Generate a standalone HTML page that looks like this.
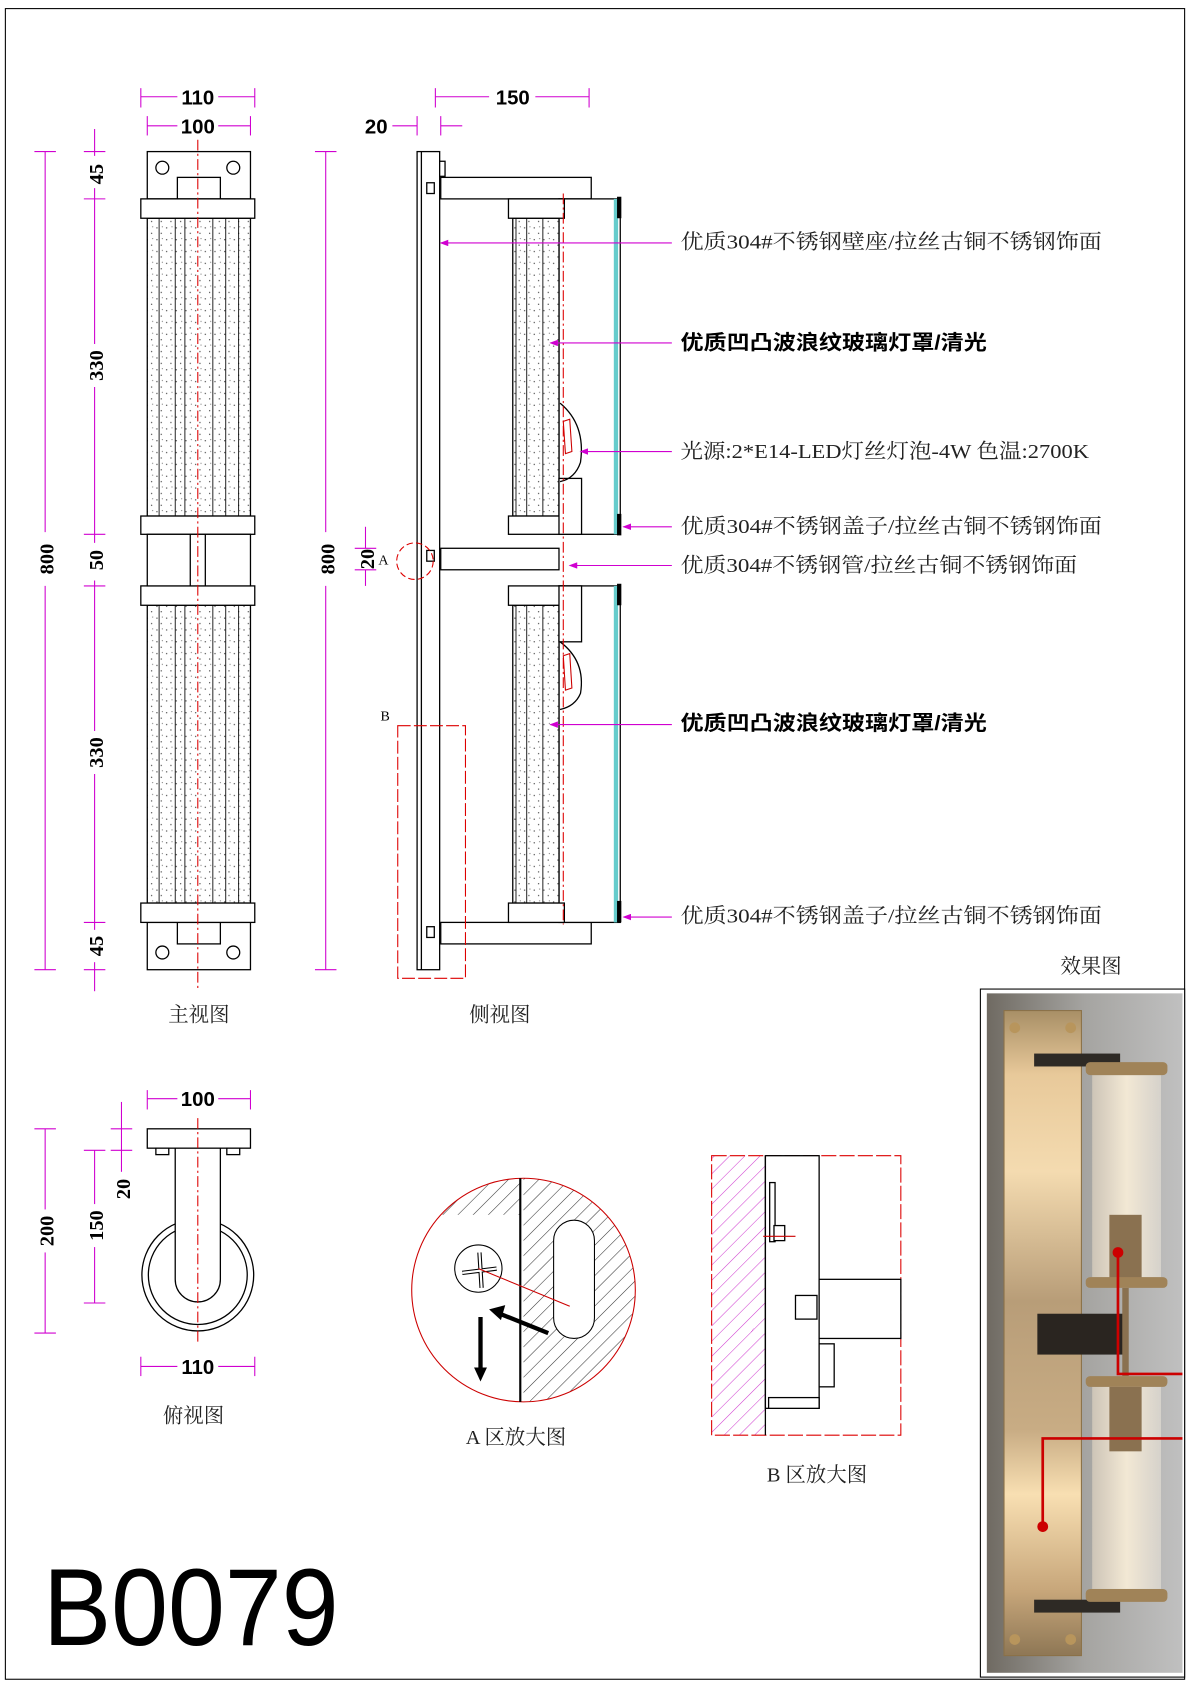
<!DOCTYPE html>
<html><head><meta charset="utf-8"><style>
html,body{margin:0;padding:0;background:#fff}
svg{display:block}
text{font-family:"Liberation Serif","Noto Serif CJK SC","Noto Sans CJK SC",serif}
.d{fill:#000;font-family:"Liberation Sans","Noto Sans CJK SC",sans-serif;font-weight:bold;font-size:19px}
.l{font-size:19px;fill:#222}
.b{font-weight:bold;fill:#000;font-family:"Liberation Sans","Noto Sans CJK SC",sans-serif}
.big{font-family:"Liberation Sans",sans-serif;font-size:102px;fill:#000}
</style></head><body>
<svg width="1190" height="1690" viewBox="0 0 1107 1572" preserveAspectRatio="none" xmlns="http://www.w3.org/2000/svg">
<defs>
<pattern id="st" width="9" height="11" patternUnits="userSpaceOnUse">
<rect width="9" height="11" fill="#fff"/>
<circle cx="2" cy="3" r=".6" fill="#333"/><circle cx="6" cy="8" r=".6" fill="#333"/><circle cx="7" cy="2" r=".5" fill="#555"/>
</pattern>
<pattern id="ht" width="10" height="10" patternUnits="userSpaceOnUse" patternTransform="rotate(45)">
<line x1="0" y1="0" x2="0" y2="10" stroke="#333" stroke-width="1"/></pattern>
<pattern id="hm" width="10" height="10" patternUnits="userSpaceOnUse" patternTransform="rotate(45)">
<line x1="0" y1="0" x2="0" y2="10" stroke="#d040d0" stroke-width="1"/></pattern>
<linearGradient id="bg" x1="0" x2="1"><stop offset="0" stop-color="#6f6a62"/><stop offset=".5" stop-color="#a5a4a1"/><stop offset="1" stop-color="#c0c0c0"/></linearGradient>
<linearGradient id="pl" x1="0" y1="0" x2="0" y2="1"><stop offset="0" stop-color="#a88f66"/><stop offset=".1" stop-color="#e8c99a"/><stop offset=".25" stop-color="#f4dbb0"/><stop offset=".45" stop-color="#b89d78"/><stop offset=".65" stop-color="#c8ac84"/><stop offset=".75" stop-color="#f8dfb2"/><stop offset=".9" stop-color="#c7a67a"/><stop offset="1" stop-color="#8e7755"/></linearGradient>
<linearGradient id="gl" x1="0" x2="1"><stop offset="0" stop-color="#cfc6b8"/><stop offset=".5" stop-color="#f6ebd6"/><stop offset="1" stop-color="#d7d3cc"/></linearGradient>
<marker id="ar" markerWidth="8" markerHeight="6" refX="7" refY="3" orient="auto"><path d="M0,0L8,3L0,6z" fill="#d000d0"/></marker>
</defs>
<rect x="5" y="8" width="1097" height="1554" fill="none" stroke="#000" stroke-width="1"/>

<g stroke="#000" stroke-width="1.2" fill="#fff">
<rect x="137" y="141" width="96" height="44"/><rect x="165" y="165" width="40" height="20"/>
<circle cx="151" cy="156" r="6"/><circle cx="217" cy="156" r="6"/>
<rect x="137" y="858" width="96" height="44"/><rect x="165" y="858" width="40" height="20"/>
<circle cx="151" cy="886" r="6"/><circle cx="217" cy="886" r="6"/>
<rect x="137" y="203" width="96" height="277" fill="url(#st)"/>
<rect x="137" y="563" width="96" height="277" fill="url(#st)"/>
<rect x="131" y="185" width="106" height="18"/><rect x="131" y="480" width="106" height="17"/>
<rect x="131" y="545" width="106" height="18"/><rect x="131" y="840" width="106" height="18"/>
<rect x="137" y="497" width="96" height="48"/>
<line x1="177" y1="497" x2="177" y2="545"/><line x1="191" y1="497" x2="191" y2="545"/>
</g>
<g stroke="#000" stroke-width=".8">
<line x1="148" y1="203" x2="148" y2="480"/><line x1="163" y1="203" x2="163" y2="480"/><line x1="172" y1="203" x2="172" y2="480"/><line x1="198" y1="203" x2="198" y2="480"/><line x1="210" y1="203" x2="210" y2="480"/><line x1="222" y1="203" x2="222" y2="480"/>
<line x1="148" y1="563" x2="148" y2="840"/><line x1="163" y1="563" x2="163" y2="840"/><line x1="172" y1="563" x2="172" y2="840"/><line x1="198" y1="563" x2="198" y2="840"/><line x1="210" y1="563" x2="210" y2="840"/><line x1="222" y1="563" x2="222" y2="840"/>
</g>
<line x1="184" y1="130" x2="184" y2="920" stroke="#d00" stroke-dasharray="10,3,2,3"/>

<g stroke="#d000d0" stroke-width="1" fill="none">
<line x1="131" y1="90" x2="165" y2="90"/><line x1="203" y1="90" x2="237" y2="90"/>
<line x1="131" y1="82" x2="131" y2="100"/><line x1="237" y1="82" x2="237" y2="100"/>
<line x1="137" y1="117" x2="165" y2="117"/><line x1="203" y1="117" x2="233" y2="117"/>
<line x1="137" y1="108" x2="137" y2="126"/><line x1="233" y1="108" x2="233" y2="126"/>
<line x1="42" y1="141" x2="42" y2="495"/><line x1="42" y1="545" x2="42" y2="902"/>
<line x1="32" y1="141" x2="52" y2="141"/><line x1="32" y1="902" x2="52" y2="902"/>
<line x1="88" y1="120" x2="88" y2="145"/><line x1="88" y1="175" x2="88" y2="320"/><line x1="88" y1="360" x2="88" y2="505"/><line x1="88" y1="540" x2="88" y2="680"/><line x1="88" y1="720" x2="88" y2="865"/><line x1="88" y1="895" x2="88" y2="922"/>
<line x1="78" y1="141" x2="98" y2="141"/><line x1="78" y1="185" x2="98" y2="185"/><line x1="78" y1="497" x2="98" y2="497"/><line x1="78" y1="545" x2="98" y2="545"/><line x1="78" y1="858" x2="98" y2="858"/><line x1="78" y1="902" x2="98" y2="902"/>
</g>
<text class="d" x="184" y="97" text-anchor="middle">110</text>
<text class="d" x="184" y="124" text-anchor="middle">100</text>
<g class="d" text-anchor="middle">
<text transform="translate(50,520) rotate(-90)">800</text>
<text transform="translate(96,162) rotate(-90)">45</text>
<text transform="translate(96,340) rotate(-90)">330</text>
<text transform="translate(96,521) rotate(-90)">50</text>
<text transform="translate(96,700) rotate(-90)">330</text>
<text transform="translate(96,880) rotate(-90)">45</text>
<text transform="translate(311,520) rotate(-90)">800</text>
<text transform="translate(348,520) rotate(-90)">20</text>
</g>
<text class="l" x="185" y="950" text-anchor="middle" font-size="21">主视图</text>

<g stroke="#000" stroke-width="1.2" fill="#fff">
<rect x="388" y="141" width="21" height="761"/><line x1="392" y1="141" x2="392" y2="902"/>
<rect x="409" y="150" width="5" height="14"/>
<rect x="410" y="165" width="140" height="20"/><rect x="410" y="858" width="140" height="20"/>
<rect x="410" y="510" width="110" height="20"/>
<rect x="520" y="185" width="57" height="312"/><rect x="520" y="545" width="57" height="313"/>
<rect x="477" y="203" width="43" height="277" fill="url(#st)"/>
<rect x="477" y="563" width="43" height="277" fill="url(#st)"/>
<rect x="473" y="185" width="52" height="18"/><rect x="473" y="480" width="52" height="17"/>
<rect x="473" y="545" width="52" height="18"/><rect x="473" y="840" width="52" height="18"/>
<rect x="520" y="445" width="21" height="52"/><rect x="520" y="545" width="21" height="52"/>
<path d="M521,375 Q545,395 540,430 Q535,445 521,448" fill="none"/>
<path d="M521,597 Q545,615 540,645 Q535,657 521,660" fill="none"/>
<rect x="397" y="170" width="7" height="10"/><rect x="397" y="512" width="7" height="10"/><rect x="397" y="862" width="7" height="10"/>
</g>
<g stroke="#000" stroke-width=".8"><line x1="480" y1="203" x2="480" y2="480"/><line x1="490" y1="203" x2="490" y2="480"/><line x1="505" y1="203" x2="505" y2="480"/><line x1="480" y1="563" x2="480" y2="840"/><line x1="490" y1="563" x2="490" y2="840"/><line x1="505" y1="563" x2="505" y2="840"/></g>
<rect x="571" y="185" width="4" height="312" fill="#6cc"/><rect x="571" y="545" width="4" height="313" fill="#6cc"/>
<rect x="574" y="183" width="4" height="20" fill="#000"/><rect x="574" y="478" width="4" height="20" fill="#000"/>
<rect x="574" y="543" width="4" height="20" fill="#000"/><rect x="574" y="838" width="4" height="20" fill="#000"/>
<path d="M524,392 L530,390 L532,420 L526,422Z M524,610 L530,608 L532,640 L526,642Z" fill="none" stroke="#c00"/>
<line x1="524" y1="180" x2="524" y2="860" stroke="#d00" stroke-dasharray="10,3,2,3"/>
<circle cx="386" cy="522" r="17" fill="none" stroke="#d00" stroke-dasharray="6,3"/>
<rect x="370" y="675" width="63" height="235" fill="none" stroke="#d00" stroke-dasharray="12,3"/>
<text x="352" y="525" font-size="13">A</text><text x="354" y="670" font-size="13">B</text>
<g stroke="#d000d0" fill="none">
<line x1="405" y1="90" x2="455" y2="90"/><line x1="498" y1="90" x2="548" y2="90"/>
<line x1="405" y1="82" x2="405" y2="100"/><line x1="548" y1="82" x2="548" y2="100"/>
<line x1="365" y1="117" x2="388" y2="117"/><line x1="410" y1="117" x2="430" y2="117"/>
<line x1="388" y1="108" x2="388" y2="126"/><line x1="410" y1="108" x2="410" y2="126"/>
<line x1="303" y1="141" x2="303" y2="495"/><line x1="303" y1="545" x2="303" y2="902"/>
<line x1="293" y1="141" x2="313" y2="141"/><line x1="293" y1="902" x2="313" y2="902"/>
<line x1="340" y1="490" x2="340" y2="510"/><line x1="340" y1="530" x2="340" y2="545"/>
<line x1="330" y1="510" x2="350" y2="510"/><line x1="330" y1="530" x2="350" y2="530"/>
<line x1="625" y1="226" x2="410" y2="226" marker-end="url(#ar)"/>
<line x1="625" y1="319" x2="512" y2="319" marker-end="url(#ar)"/>
<line x1="625" y1="420" x2="540" y2="420" marker-end="url(#ar)"/>
<line x1="625" y1="490" x2="580" y2="490" marker-end="url(#ar)"/>
<line x1="625" y1="526" x2="530" y2="526" marker-end="url(#ar)"/>
<line x1="625" y1="674" x2="512" y2="674" marker-end="url(#ar)"/>
<line x1="625" y1="853" x2="580" y2="853" marker-end="url(#ar)"/>
</g>
<text class="d" x="477" y="97" text-anchor="middle">150</text>
<text class="d" x="350" y="124" text-anchor="middle">20</text>
<text class="l" x="633" y="231" textLength="392" lengthAdjust="spacingAndGlyphs">优质304#不锈钢壁座/拉丝古铜不锈钢饰面</text>
<text class="l b" x="633" y="325" textLength="285" lengthAdjust="spacingAndGlyphs">优质凹凸波浪纹玻璃灯罩/清光</text>
<text class="l" x="633" y="426" textLength="380" lengthAdjust="spacingAndGlyphs">光源:2*E14-LED灯丝灯泡-4W  色温:2700K</text>
<text class="l" x="633" y="496" textLength="392" lengthAdjust="spacingAndGlyphs">优质304#不锈钢盖子/拉丝古铜不锈钢饰面</text>
<text class="l" x="633" y="532" textLength="369" lengthAdjust="spacingAndGlyphs">优质304#不锈钢管/拉丝古铜不锈钢饰面</text>
<text class="l b" x="633" y="679" textLength="285" lengthAdjust="spacingAndGlyphs">优质凹凸波浪纹玻璃灯罩/清光</text>
<text class="l" x="633" y="858" textLength="392" lengthAdjust="spacingAndGlyphs">优质304#不锈钢盖子/拉丝古铜不锈钢饰面</text>
<text class="l" x="465" y="950" text-anchor="middle" font-size="21">侧视图</text>
<text class="l" x="1015" y="905" text-anchor="middle" font-size="22">效果图</text>

<g stroke="#000" stroke-width="1.2" fill="#fff">
<circle cx="184" cy="1186" r="52"/>
<circle cx="184" cy="1186" r="46"/>
<path d="M163,1068 L163,1190 A21,21 0 0,0 205,1190 L205,1068"/>
<rect x="137" y="1050" width="96" height="18"/>
<rect x="145" y="1068" width="12" height="6"/><rect x="211" y="1068" width="12" height="6"/>
</g>
<line x1="184" y1="1040" x2="184" y2="1250" stroke="#d00" stroke-dasharray="10,3,2,3"/>
<g stroke="#d000d0" fill="none">
<line x1="137" y1="1022" x2="165" y2="1022"/><line x1="203" y1="1022" x2="233" y2="1022"/>
<line x1="137" y1="1014" x2="137" y2="1032"/><line x1="233" y1="1014" x2="233" y2="1032"/>
<line x1="131" y1="1271" x2="165" y2="1271"/><line x1="203" y1="1271" x2="237" y2="1271"/>
<line x1="131" y1="1262" x2="131" y2="1280"/><line x1="237" y1="1262" x2="237" y2="1280"/>
<line x1="42" y1="1050" x2="42" y2="1125"/><line x1="42" y1="1165" x2="42" y2="1240"/>
<line x1="32" y1="1050" x2="52" y2="1050"/><line x1="32" y1="1240" x2="52" y2="1240"/>
<line x1="88" y1="1070" x2="88" y2="1120"/><line x1="88" y1="1160" x2="88" y2="1212"/>
<line x1="78" y1="1070" x2="98" y2="1070"/><line x1="78" y1="1212" x2="98" y2="1212"/>
<line x1="113" y1="1025" x2="113" y2="1090"/><line x1="103" y1="1050" x2="123" y2="1050"/><line x1="103" y1="1070" x2="123" y2="1070"/>
</g>
<text class="d" x="184" y="1029" text-anchor="middle">100</text>
<text class="d" x="184" y="1278" text-anchor="middle">110</text>
<g class="d" text-anchor="middle">
<text transform="translate(50,1145) rotate(-90)">200</text>
<text transform="translate(96,1140) rotate(-90)">150</text>
<text transform="translate(121,1106) rotate(-90)">20</text>
</g>
<text class="l" x="180" y="1323" text-anchor="middle" font-size="21">俯视图</text>

<clipPath id="ca"><circle cx="487" cy="1200" r="104"/></clipPath>
<g clip-path="url(#ca)">
<rect x="380" y="1090" width="104" height="40" fill="url(#ht)"/>
<rect x="487" y="1090" width="110" height="220" fill="url(#ht)"/>
<rect x="515" y="1135" width="38" height="110" rx="19" fill="#fff" stroke="#000"/>
</g>
<circle cx="487" cy="1200" r="104" fill="none" stroke="#c00"/>
<line x1="484" y1="1096" x2="484" y2="1304" stroke="#000" stroke-width="2"/>
<circle cx="445" cy="1180" r="22" fill="#fff" stroke="#000"/>
<path d="M430,1184 L462,1180 M446,1165 L448,1198" stroke="#000" stroke-width="4"/>
<path d="M430,1184 L462,1180 M446,1165 L448,1198" stroke="#fff" stroke-width="2"/>
<line x1="445" y1="1180" x2="530" y2="1215" stroke="#c00"/>
<line x1="510" y1="1240" x2="465" y2="1222" stroke="#000" stroke-width="4"/><path d="M455,1218 L470,1214 L466,1228Z"/>
<line x1="447" y1="1225" x2="447" y2="1275" stroke="#000" stroke-width="4"/><path d="M441,1272 L453,1272 L447,1285Z"/>
<text class="l" x="480" y="1343" text-anchor="middle" font-size="21">A  区放大图</text>

<rect x="662" y="1075" width="50" height="260" fill="url(#hm)"/>
<rect x="662" y="1075" width="176" height="260" fill="none" stroke="#d00" stroke-dasharray="14,3"/>
<g stroke="#000" fill="#fff" stroke-width="1.2">
<rect x="712" y="1075" width="50" height="235"/>
<line x1="712" y1="1075" x2="712" y2="1335"/>
<rect x="762" y="1190" width="76" height="55"/>
<rect x="762" y="1250" width="14" height="40"/>
<rect x="715" y="1300" width="47" height="10"/>
<rect x="740" y="1205" width="20" height="22"/>
<rect x="716" y="1100" width="5" height="55"/>
<rect x="720" y="1140" width="10" height="14"/>
</g>
<line x1="710" y1="1150" x2="740" y2="1150" stroke="#c00"/>
<text class="l" x="760" y="1378" text-anchor="middle" font-size="21">B  区放大图</text>

<text class="big" x="40" y="1530" textLength="275" lengthAdjust="spacingAndGlyphs">B0079</text>

<rect x="912" y="920" width="190" height="640" fill="#fff" stroke="#000"/>
<rect x="918" y="924" width="182" height="632" fill="url(#bg)"/>
<rect x="934" y="940" width="72" height="600" fill="url(#pl)" stroke="#8b7148"/>
<circle cx="944" cy="956" r="5" fill="#b8955c"/><circle cx="996" cy="956" r="5" fill="#b8955c"/>
<circle cx="944" cy="1525" r="5" fill="#b8955c"/><circle cx="996" cy="1525" r="5" fill="#b8955c"/>
<rect x="962" y="980" width="80" height="12" fill="#2e2a25"/>
<rect x="962" y="1488" width="80" height="12" fill="#2e2a25"/>
<rect x="965" y="1222" width="80" height="38" fill="#2a2520"/>
<rect x="1016" y="1000" width="64" height="188" fill="url(#gl)" opacity=".95"/>
<rect x="1016" y="1290" width="64" height="188" fill="url(#gl)" opacity=".95"/>
<rect x="1032" y="1130" width="30" height="60" fill="#8a7150"/>
<rect x="1032" y="1290" width="30" height="60" fill="#8a7150"/>
<rect x="1010" y="988" width="76" height="12" rx="4" fill="#a08358"/>
<rect x="1010" y="1188" width="76" height="10" rx="4" fill="#a08358"/>
<rect x="1010" y="1280" width="76" height="10" rx="4" fill="#a08358"/>
<rect x="1010" y="1478" width="76" height="12" rx="4" fill="#a08358"/>
<rect x="1044" y="1198" width="6" height="82" fill="#8a7150"/>
<path d="M1040,1165 V1278 H1100 M970,1420 V1338 H1100" fill="none" stroke="#c00" stroke-width="2.5"/>
<circle cx="1040" cy="1165" r="5" fill="#c00"/><circle cx="970" cy="1420" r="5" fill="#c00"/>
</svg>
</body></html>
